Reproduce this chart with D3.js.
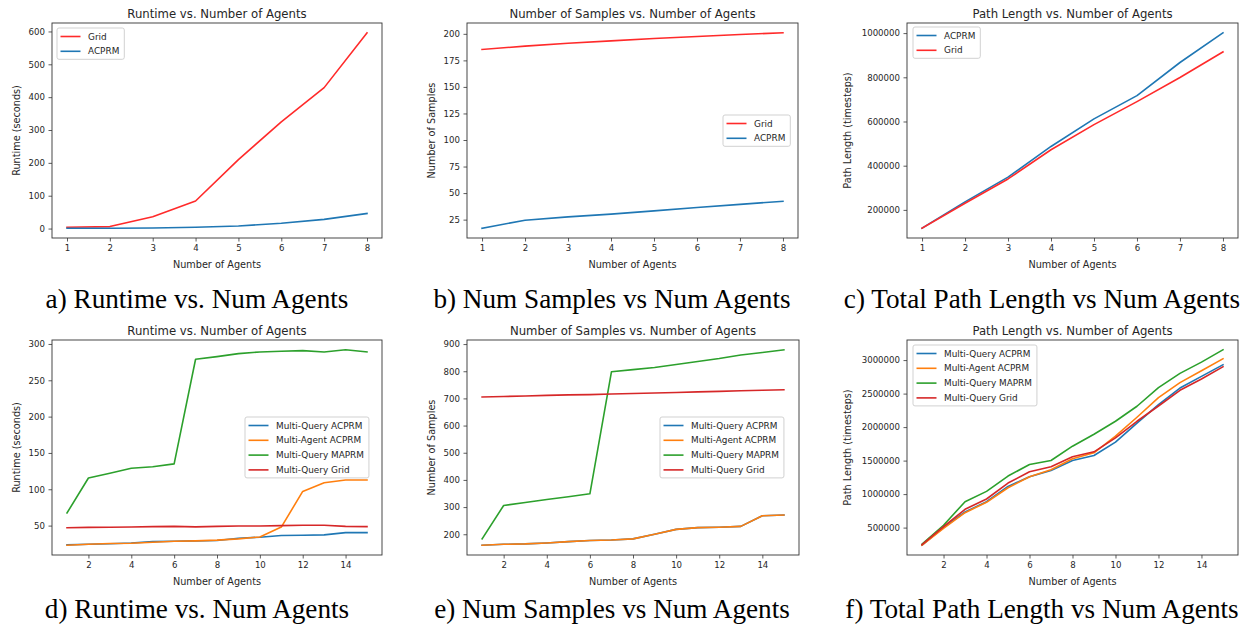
<!DOCTYPE html>
<html>
<head>
<meta charset="utf-8">
<script src="https://cdn.jsdelivr.net/npm/d3@7"></script>
<style>
  html, body { margin: 0; padding: 0; background: #fff; }
  svg { display: block; }
</style>
</head>
<body>
<svg id="chart" width="1250" height="629"></svg>
<script>
// ---------- DATA ----------
const agentsTop = [1, 2, 3, 4, 5, 6, 7, 8];
const agentsBottom = [1, 2, 3, 4, 5, 6, 7, 8, 9, 10, 11, 12, 13, 14, 15];

// a) Runtime (seconds)
const runtimeGrid  = [4, 6, 36, 84, 210, 325, 429, 596];
const runtimeACPRM = [1, 1, 1.5, 4, 8, 16, 28, 46];

// b) Number of samples
const samplesGrid  = [185.3, 188.4, 191.2, 193.4, 195.6, 197.5, 199.4, 201];
const samplesACPRM = [16.9, 24.4, 27.6, 30.2, 33.2, 36.4, 39.4, 42.3];

// c) Path length (timesteps)
const pathACPRM = [117000, 236000, 348000, 487000, 612000, 717000, 867000, 1001500];
const pathGrid  = [117000, 230000, 340000, 472000, 586000, 690000, 799000, 915000];

// d) Runtime, multi
const mRuntimeMQACPRM = [23.5, 24.4, 25, 26, 28, 28.5, 29, 29.5, 32.6, 34, 36.3, 36.7, 37.2, 40.4, 40.4];
const mRuntimeMAACPRM = [23, 24.4, 25.3, 25.7, 27, 28.5, 29, 30, 31.7, 34.4, 48, 97, 109, 112.7, 112.7];
const mRuntimeMQMAPRM = [67.4, 115.5, 122, 129, 131, 135, 279, 282.6, 286.7, 289, 290, 290.8, 289, 292, 289];
const mRuntimeMQGrid  = [47, 47.6, 47.8, 48, 48.6, 49, 48.2, 49, 49.4, 49.5, 50, 50.4, 50.4, 49, 48.6];

// e) Number of samples, multi
const mSamplesMQACPRM = [159.6, 163, 164.5, 168, 173, 177, 179, 183, 200, 218, 224.5, 226, 229, 268, 271];
const mSamplesMAACPRM = [159.6, 163, 164.5, 168, 173, 177, 179, 183, 200, 218, 224.5, 226, 229, 268, 271];
const mSamplesMQMAPRM = [183, 306, 317, 328, 338, 349, 798, 806, 814, 825, 836, 847, 860, 869, 879];
const mSamplesMQGrid  = [705, 707, 709, 711, 713, 714, 716, 718, 720, 722, 724, 726, 728, 730, 732];

// f) Path length, multi
const mPathMQACPRM = [237000, 505000, 733000, 887000, 1115000, 1259000, 1353000, 1502000, 1576000, 1775000, 2058000, 2335000, 2583000, 2757000, 2931000];
const mPathMAACPRM = [237000, 490000, 723000, 877000, 1095000, 1259000, 1363000, 1527000, 1616000, 1864000, 2147000, 2440000, 2663000, 2841000, 3020000];
const mPathMQMAPRM = [252000, 535000, 887000, 1041000, 1269000, 1442000, 1502000, 1715000, 1894000, 2087000, 2311000, 2588000, 2802000, 2970000, 3154000];
const mPathMQGrid  = [247000, 515000, 773000, 927000, 1165000, 1333000, 1408000, 1557000, 1631000, 1839000, 2087000, 2315000, 2549000, 2717000, 2901000];

// tick labels
const xTicksTop = [1, 2, 3, 4, 5, 6, 7, 8];
const xTicksBottom = [2, 4, 6, 8, 10, 12, 14];
const yTicksRuntimeTop = [0, 100, 200, 300, 400, 500, 600];
const yTicksSamplesTop = [25, 50, 75, 100, 125, 150, 175, 200];
const yTicksPathTop = [200000, 400000, 600000, 800000, 1000000];
const yTicksRuntimeBottom = [50, 100, 150, 200, 250, 300];
const yTicksSamplesBottom = [200, 300, 400, 500, 600, 700, 800, 900];
const yTicksPathBottom = [500000, 1000000, 1500000, 2000000, 2500000, 3000000];

// series names / titles
const nameGrid = "Grid", nameACPRM = "ACPRM";
const namesMulti = ["Multi-Query ACPRM", "Multi-Agent ACPRM", "Multi-Query MAPRM", "Multi-Query Grid"];
const titleRuntime = "Runtime vs. Number of Agents";
const titleSamples = "Number of Samples vs. Number of Agents";
const titlePath = "Path Length vs. Number of Agents";
const xLabel = "Number of Agents";
const yLabelRuntime = "Runtime (seconds)";
const yLabelSamples = "Number of Samples";
const yLabelPath = "Path Length (timesteps)";
const captions = [
  "a) Runtime vs. Num Agents",
  "b) Num Samples vs Num Agents",
  "c) Total Path Length vs Num Agents",
  "d) Runtime vs. Num Agents",
  "e) Num Samples vs Num Agents",
  "f) Total Path Length vs Num Agents"
];

// ---------- STYLE / LAYOUT ----------
const RED = "#ff2a2a", BLUE = "#1f77b4";
const TAB = ["#1f77b4", "#ff7f0e", "#2ca02c", "#d62728"];
const FONT = "'DejaVu Sans', sans-serif";
const TXT = "#262626";

const panels = [
  { frame: [52, 23, 382, 238], x: agentsTop, xticks: xTicksTop, yticks: yTicksRuntimeTop,
    title: titleRuntime, ylabel: yLabelRuntime, ylabX: 16,
    series: [{ name: nameGrid, values: runtimeGrid, color: RED }, { name: nameACPRM, values: runtimeACPRM, color: BLUE }],
    legend: [57, 28] },
  { frame: [467, 23, 798, 238], x: agentsTop, xticks: xTicksTop, yticks: yTicksSamplesTop,
    title: titleSamples, ylabel: yLabelSamples, ylabX: 431,
    series: [{ name: nameGrid, values: samplesGrid, color: RED }, { name: nameACPRM, values: samplesACPRM, color: BLUE }],
    legend: [723, 115] },
  { frame: [907, 23, 1238, 238], x: agentsTop, xticks: xTicksTop, yticks: yTicksPathTop,
    title: titlePath, ylabel: yLabelPath, ylabX: 847,
    series: [{ name: nameACPRM, values: pathACPRM, color: BLUE }, { name: nameGrid, values: pathGrid, color: RED }],
    legend: [913, 27] },
  { frame: [52, 340, 382, 555], x: agentsBottom, xticks: xTicksBottom, yticks: yTicksRuntimeBottom,
    title: titleRuntime, ylabel: yLabelRuntime, ylabX: 16,
    series: [mRuntimeMQACPRM, mRuntimeMAACPRM, mRuntimeMQMAPRM, mRuntimeMQGrid].map((v, i) => ({ name: namesMulti[i], values: v, color: TAB[i] })),
    legend: [245, 417] },
  { frame: [467, 340, 799, 555], x: agentsBottom, xticks: xTicksBottom, yticks: yTicksSamplesBottom,
    title: titleSamples, ylabel: yLabelSamples, ylabX: 431,
    series: [mSamplesMQACPRM, mSamplesMAACPRM, mSamplesMQMAPRM, mSamplesMQGrid].map((v, i) => ({ name: namesMulti[i], values: v, color: TAB[i] })),
    legend: [660, 417] },
  { frame: [907, 340, 1238, 555], x: agentsBottom, xticks: xTicksBottom, yticks: yTicksPathBottom,
    title: titlePath, ylabel: yLabelPath, ylabX: 847,
    series: [mPathMQACPRM, mPathMAACPRM, mPathMQMAPRM, mPathMQGrid].map((v, i) => ({ name: namesMulti[i], values: v, color: TAB[i] })),
    legend: [913, 345] }
];
const captionPos = [[197, 308], [612, 308], [1042, 308], [197, 618], [612, 618], [1042, 618]];

const svg = d3.select("#chart");

function padded(ext) {
  const p = (ext[1] - ext[0]) * 0.05;
  return [ext[0] - p, ext[1] + p];
}

panels.forEach((cfg, idx) => {
  const [x0, y0, x1, y1] = cfg.frame;
  const g = svg.append("g");
  const xs = d3.scaleLinear().domain(padded(d3.extent(cfg.x))).range([x0, x1]);
  const ys = d3.scaleLinear().domain(padded(d3.extent(cfg.series.flatMap(s => s.values)))).range([y1, y0]);

  // lines
  const line = d3.line().x((d, i) => xs(cfg.x[i])).y(d => ys(d));
  g.append("g").selectAll("path").data(cfg.series).join("path")
    .attr("d", s => line(s.values))
    .attr("fill", "none")
    .attr("stroke", s => s.color)
    .attr("stroke-width", 1.6)
    .attr("stroke-linejoin", "round")
    .attr("stroke-linecap", "square");

  // axes
  const xa = g.append("g").attr("transform", `translate(0,${y1})`)
    .call(d3.axisBottom(xs).tickValues(cfg.xticks).tickSize(3.5).tickPadding(3.5).tickFormat(d3.format("d")));
  const ya = g.append("g").attr("transform", `translate(${x0},0)`)
    .call(d3.axisLeft(ys).tickValues(cfg.yticks).tickSize(3.5).tickPadding(3.5).tickFormat(d3.format("d")));
  [xa, ya].forEach(a => {
    a.select(".domain").remove();
    a.attr("font-family", FONT).attr("font-size", 8.6);
    a.selectAll(".tick line").attr("stroke", "#333").attr("stroke-width", 0.8);
    a.selectAll(".tick text").attr("fill", TXT);
  });

  // frame
  g.append("rect").attr("x", x0).attr("y", y0).attr("width", x1 - x0).attr("height", y1 - y0)
    .attr("fill", "none").attr("stroke", "#333").attr("stroke-width", 0.9);

  // title
  g.append("text").attr("x", (x0 + x1) / 2).attr("y", y0 - 5)
    .attr("text-anchor", "middle").attr("font-family", FONT).attr("font-size", 11.7)
    .attr("fill", TXT).text(cfg.title);
  // x label
  g.append("text").attr("x", (x0 + x1) / 2).attr("y", y1 + 29.5)
    .attr("text-anchor", "middle").attr("font-family", FONT).attr("font-size", 9.7)
    .attr("fill", TXT).text(xLabel);
  // y label
  g.append("text").attr("transform", `translate(${cfg.ylabX},${(y0 + y1) / 2}) rotate(-90)`)
    .attr("text-anchor", "middle").attr("dominant-baseline", "central")
    .attr("font-family", FONT).attr("font-size", 9.7)
    .attr("fill", TXT).text(cfg.ylabel);

  // legend
  const [lx, ly] = cfg.legend;
  const lg = g.append("g").attr("transform", `translate(${lx},${ly})`);
  const box = lg.append("rect").attr("rx", 2).attr("ry", 2)
    .attr("fill", "#fff").attr("fill-opacity", 0.85).attr("stroke", "#cccccc").attr("stroke-width", 0.9);
  const rowH = 14.8;
  const items = lg.selectAll("g.item").data(cfg.series).join("g").attr("class", "item")
    .attr("transform", (d, i) => `translate(0,${8.5 + i * rowH})`);
  items.append("line").attr("x1", 3.5).attr("x2", 23.5).attr("y1", 0).attr("y2", 0)
    .attr("stroke", d => d.color).attr("stroke-width", 1.6);
  const texts = items.append("text").attr("x", 31).attr("y", 0).attr("dy", "0.35em")
    .attr("font-family", FONT).attr("font-size", 8.9).attr("fill", TXT).text(d => d.name);
  let maxW = 0;
  texts.each(function () { maxW = Math.max(maxW, this.getComputedTextLength()); });
  box.attr("x", 0).attr("y", 0).attr("width", 31 + maxW + 5).attr("height", 8.5 + (cfg.series.length - 1) * rowH + 8);

  // caption
  svg.append("text").attr("x", captionPos[idx][0]).attr("y", captionPos[idx][1])
    .attr("text-anchor", "middle").attr("font-family", "'Liberation Serif', 'Times New Roman', serif")
    .attr("font-size", 27.2).attr("fill", "#000").text(captions[idx]);
});
</script>
</body>
</html>
